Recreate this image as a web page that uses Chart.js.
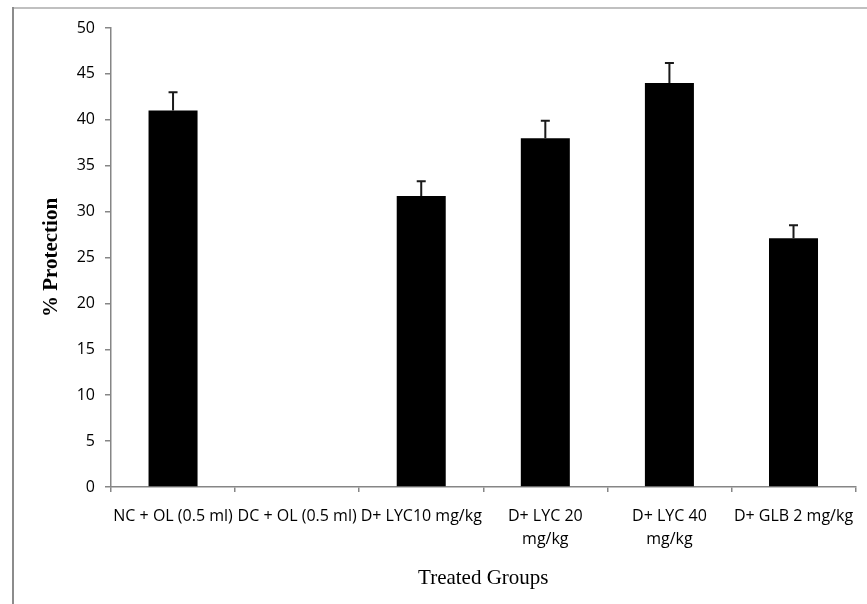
<!DOCTYPE html>
<html><head><meta charset="utf-8">
<script src="https://cdn.jsdelivr.net/npm/chart.js@4.4.0/dist/chart.umd.min.js"></script>
<style>html,body{margin:0;padding:0;background:#fff;} canvas{display:block;}</style>
</head><body>
<canvas id="c" width="867" height="604"></canvas>
<script>
const categories = ['NC + OL (0.5 ml)', 'DC + OL (0.5 ml)', 'D+ LYC10 mg/kg', ['D+ LYC 20', 'mg/kg'], ['D+ LYC 40', 'mg/kg'], 'D+ GLB 2 mg/kg'];
const protection = [41.0, 0, 31.7, 38.0, 44.0, 27.1];
const errors = [2.0, 0, 1.6, 1.9, 2.2, 1.4];
const yMin = 0, yMax = 50, yStep = 5;

const framePlugin = {
  id: 'frame',
  beforeDraw(chart) {
    const ctx = chart.ctx;
    ctx.save();
    ctx.fillStyle = '#fff';
    ctx.fillRect(0, 0, chart.width, chart.height);
    ctx.fillStyle = '#c0c0c0';
    ctx.fillRect(12, 7, chart.width - 12, 2);
    ctx.fillStyle = '#8c8c8c';
    ctx.fillRect(12, 7, 2, chart.height - 7);
    ctx.restore();
  }
};

const errorBarPlugin = {
  id: 'errorBars',
  afterDatasetsDraw(chart) {
    const ctx = chart.ctx;
    const meta = chart.getDatasetMeta(0);
    const y = chart.scales.y;
    ctx.save();
    ctx.strokeStyle = '#1a1a1a';
    ctx.lineWidth = 2;
    meta.data.forEach((bar, i) => {
      const e = errors[i];
      if (!e) return;
      const v = protection[i];
      const y0 = y.getPixelForValue(v);
      const y1 = y.getPixelForValue(v + e);
      ctx.beginPath();
      ctx.moveTo(bar.x, y0);
      ctx.lineTo(bar.x, y1);
      ctx.moveTo(bar.x - 4.5, y1);
      ctx.lineTo(bar.x + 4.5, y1);
      ctx.stroke();
    });
    ctx.restore();
  }
};

new Chart(document.getElementById('c'), {
  type: 'bar',
  data: {
    labels: categories,
    datasets: [{
      data: protection,
      backgroundColor: '#000',
      borderWidth: 0,
      barPercentage: 0.395,
      categoryPercentage: 1
    }]
  },
  options: {
    responsive: false,
    animation: false,
    devicePixelRatio: 1,
    layout: { padding: { left: 0, top: 28, right: 11, bottom: 0 } },
    plugins: { legend: { display: false }, tooltip: { enabled: false } },
    scales: {
      y: {
        min: yMin, max: yMax,
        ticks: { stepSize: yStep, color: '#000', padding: 10, font: { family: 'Open Sans', size: 16 } },
        grid: { drawOnChartArea: false, drawTicks: true, tickLength: 6, color: '#868686', lineWidth: 1.5 },
        border: { color: '#868686', width: 1.5 },
        title: { display: true, text: '% Protection', color: '#000', font: { family: 'Liberation Serif', size: 21, weight: 'bold' }, padding: { top: 39, bottom: 0 } },
        afterFit(s) { s.width = 111; }
      },
      x: {
        offset: true,
        ticks: { color: '#000', maxRotation: 0, minRotation: 0, autoSkip: false, padding: 13, font: { family: 'Open Sans', size: 16, lineHeight: 1.45 } },
        grid: { drawOnChartArea: false, drawTicks: true, tickLength: 5, color: '#868686', lineWidth: 1.5, offset: true },
        border: { color: '#868686', width: 1.5 },
        title: { display: true, text: 'Treated Groups', color: '#000', font: { family: 'Liberation Serif', size: 21 }, padding: { top: 0, bottom: 13 } },
        afterFit(s) { s.height = 117; }
      }
    }
  },
  plugins: [framePlugin, errorBarPlugin]
});
</script>
</body></html>
